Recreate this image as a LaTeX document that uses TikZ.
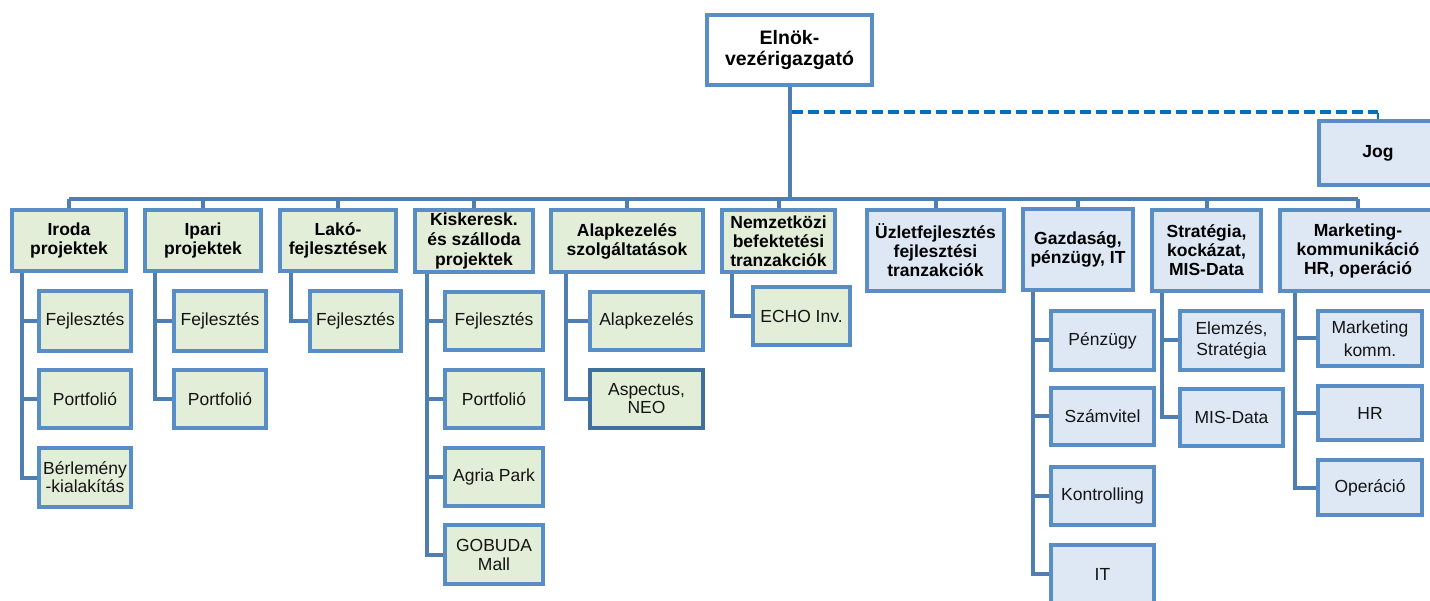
\documentclass[tikz,border=0pt]{standalone}
\usepackage{fontspec}
\setmainfont{Liberation Sans}
\usetikzlibrary{backgrounds}
\definecolor{bordc}{RGB}{88,141,198}
\definecolor{connc}{RGB}{78,126,178}
\definecolor{gfill}{RGB}{227,238,216}
\definecolor{bfill}{RGB}{222,232,245}
\definecolor{dashc}{RGB}{0,112,192}
\definecolor{darkb}{RGB}{66,112,158}
\definecolor{txtc}{RGB}{20,20,20}
\tikzset{
  box/.style={draw=bordc, line width=4pt, inner sep=1pt, outer sep=0pt, align=center,
    font=\fontsize{17.5}{19}\selectfont, text=txtc},
  gbox/.style={box, fill=gfill},
  bbox/.style={box, fill=bfill},
  hd/.style={font=\bfseries\fontsize{17.5}{19}\selectfont, text=black},
  conn/.style={draw=connc, line width=4pt},
  dashln/.style={draw=dashc, line width=3.5pt, dash pattern=on 11pt off 5pt}
}
\begin{document}
\begin{tikzpicture}[x=1pt,y=-1pt]
\useasboundingbox (0,0) rectangle (1430,601);
\clip (0,0) rectangle (1430,601);

% top
\node[box, fill=white, font=\bfseries\fontsize{19.5}{21}\selectfont, text=black,
  minimum width=165, minimum height=70] (elnok) at (789.5,50) {Elnök-\\vezérigazgató};
\node[bbox, hd, minimum width=118, minimum height=64] (jog) at (1378,153) {Jog};

% level 1
\node[gbox,hd,minimum width=114,minimum height=61] (iroda) at (69,240.5) {Iroda\\projektek};
\node[gbox,hd,minimum width=116,minimum height=61] (ipari) at (203,240.5) {Ipari\\projektek};
\node[gbox,hd,minimum width=116,minimum height=61] (lako) at (338,240.5) {Lakó-\\fejlesztések};
\node[gbox,hd,font=\bfseries\fontsize{17.5}{20}\selectfont,minimum width=118,minimum height=62] (kisk) at (474,241) {Kiskeresk.\\és szálloda\\projektek};
\node[gbox,hd,minimum width=152,minimum height=62] (alap) at (627,241) {Alapkezelés\\szolgáltatások};
\node[gbox,hd,minimum width=113,minimum height=62] (nemz) at (778.5,241) {Nemzetközi\\befektetési\\tranzakciók};
\node[bbox,hd,minimum width=137,minimum height=81] (uzlet) at (935.5,250.5) {Üzletfejlesztés\\fejlesztési\\tranzakciók};
\node[bbox,hd,minimum width=110,minimum height=81] (gazd) at (1078,249.5) {Gazdaság,\\pénzügy, IT};
\node[bbox,hd,minimum width=109,minimum height=81] (strat) at (1206.5,250.5) {Stratégia,\\kockázat,\\MIS-Data};
\node[bbox,hd,minimum width=156,minimum height=81] (mark) at (1358,250.5) {Marketing-\\kommunikáció\\HR, operáció};

% children: Iroda
\node[gbox,minimum width=92,minimum height=60] (irodaA) at (85,321) {Fejlesztés};
\node[gbox,minimum width=92,minimum height=58] (irodaB) at (85,399) {Portfolió};
\node[gbox,font=\fontsize{17.5}{18}\selectfont,minimum width=92,minimum height=59] (irodaC) at (85,477.5) {Bérlemény\\-kialakítás};
% Ipari
\node[gbox,minimum width=92,minimum height=60] (ipariA) at (220,321) {Fejlesztés};
\node[gbox,minimum width=92,minimum height=58] (ipariB) at (220,399) {Portfolió};
% Lako
\node[gbox,minimum width=91,minimum height=60] (lakoA) at (355.5,321) {Fejlesztés};
% Kisk
\node[gbox,minimum width=98,minimum height=58] (kiskA) at (494,321) {Fejlesztés};
\node[gbox,minimum width=98,minimum height=58] (kiskB) at (494,399) {Portfolió};
\node[gbox,minimum width=98,minimum height=58] (kiskC) at (494,477) {Agria Park};
\node[gbox,minimum width=98,minimum height=59] (kiskD) at (494,554.5) {GOBUDA\\Mall};
% Alap
\node[gbox,minimum width=113,minimum height=58] (alapA) at (646.5,321) {Alapkezelés};
\node[gbox,draw=darkb,font=\fontsize{17.5}{18}\selectfont,minimum width=113,minimum height=58] (alapB) at (646.5,399) {Aspectus,\\NEO};
% Nemz
\node[gbox,minimum width=97,minimum height=58] (nemzA) at (801.5,316) {ECHO Inv.};
% Gazd
\node[bbox,minimum width=103,minimum height=59] (gazdA) at (1102.5,340.5) {Pénzügy};
\node[bbox,minimum width=103,minimum height=57] (gazdB) at (1102.5,416.5) {Számvitel};
\node[bbox,minimum width=103,minimum height=58] (gazdC) at (1102.5,496) {Kontrolling};
\node[bbox,minimum width=103,minimum height=58] (gazdD) at (1102.5,574) {IT};
% Strat
\node[bbox,font=\fontsize{17.5}{21}\selectfont,minimum width=103,minimum height=59] (stratA) at (1231.5,340.5) {Elemzés,\\Stratégia};
\node[bbox,minimum width=103,minimum height=57] (stratB) at (1231.5,417.5) {MIS-Data};
% Mark
\node[bbox,font=\fontsize{17.5}{23}\selectfont,minimum width=104,minimum height=55] (markA) at (1370,338.5) {Marketing\\komm.};
\node[bbox,minimum width=104,minimum height=54] (markB) at (1370,413) {HR};
\node[bbox,minimum width=104,minimum height=55] (markC) at (1370,487.5) {Operáció};

\coordinate (bus) at (0,199);
\coordinate (dashy) at (0,112);

\begin{scope}[on background layer]
  % main trunk and bus
  \draw[conn] (elnok.south) -- (elnok.south |- bus);
  \draw[conn] (iroda.north |- bus) -- (mark.north |- bus);
  \foreach \n in {iroda,ipari,lako,kisk,alap,nemz,uzlet,gazd,strat,mark}
    \draw[conn] (\n.north) -- (\n.north |- bus);
  % dashed staff line
  \draw[dashln] ([xshift=2pt]elnok.south |- dashy) -- (jog.north |- dashy);
  \draw[draw=dashc, line width=2.5pt] ([yshift=-1.5pt]jog.north |- dashy) -- (jog.north);
  % children connectors
  \foreach \c in {irodaA,irodaB,irodaC}
    \draw[conn] ([xshift=10pt]iroda.south west) |- (\c.west);
  \foreach \c in {ipariA,ipariB}
    \draw[conn] ([xshift=10pt]ipari.south west) |- (\c.west);
  \draw[conn] ([xshift=11pt]lako.south west) |- (lakoA.west);
  \foreach \c in {kiskA,kiskB,kiskC,kiskD}
    \draw[conn] ([xshift=12pt]kisk.south west) |- (\c.west);
  \foreach \c in {alapA,alapB}
    \draw[conn] ([xshift=15pt]alap.south west) |- (\c.west);
  \draw[conn] ([xshift=10pt]nemz.south west) |- (nemzA.west);
  \foreach \c in {gazdA,gazdB,gazdC,gazdD}
    \draw[conn] ([xshift=10pt]gazd.south west) |- (\c.west);
  \foreach \c in {stratA,stratB}
    \draw[conn] ([xshift=10pt]strat.south west) |- (\c.west);
  \foreach \c in {markA,markB,markC}
    \draw[conn] ([xshift=15pt]mark.south west) |- (\c.west);
\end{scope}
\end{tikzpicture}
\end{document}
